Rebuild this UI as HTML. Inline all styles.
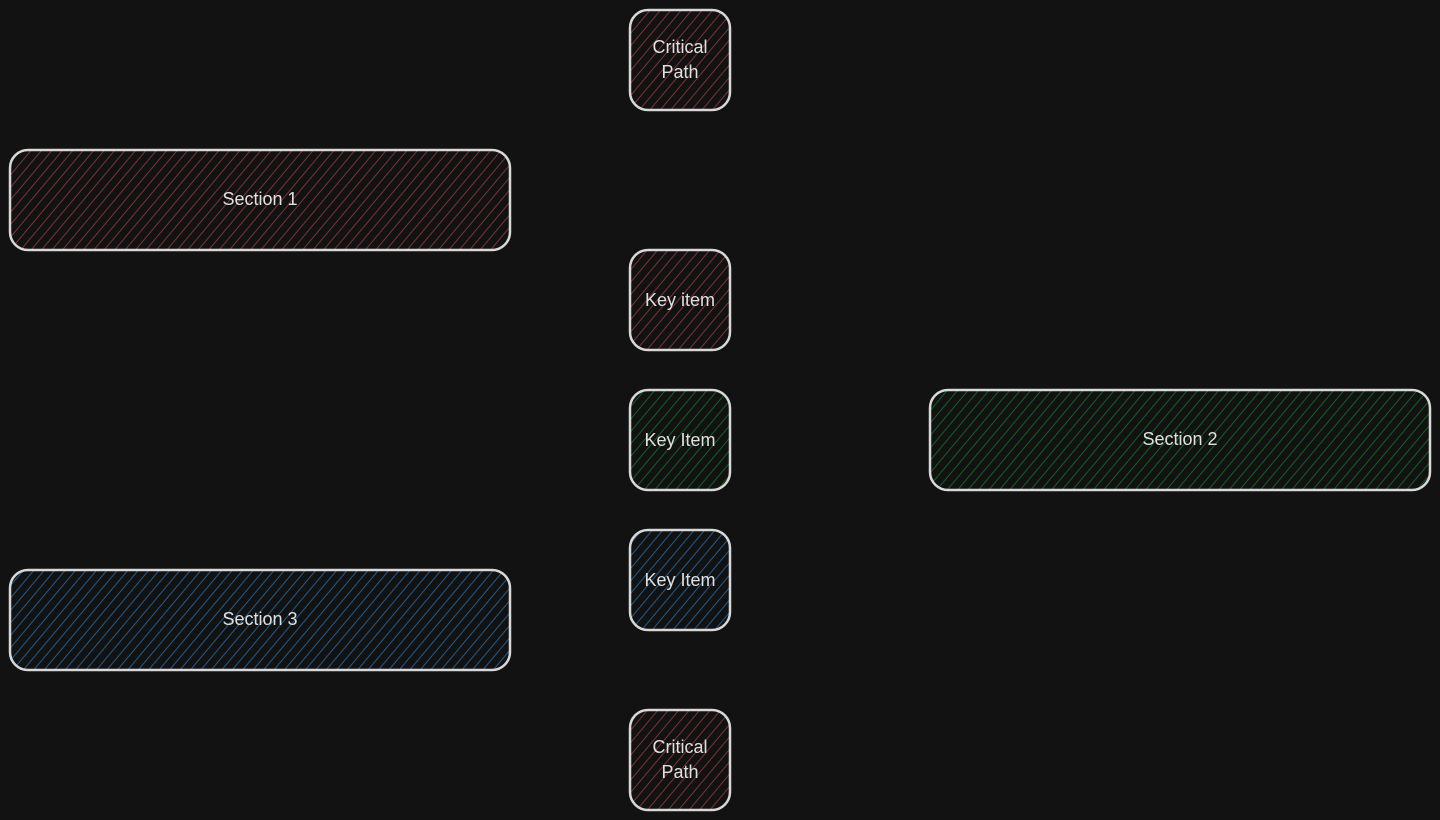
<!DOCTYPE html>
<html><head><style>
html,body{margin:0;padding:0;background:#121212;}
svg{display:block}
text{font-family:"Comic Sans MS","Liberation Sans",sans-serif;font-size:18px;fill:#e0e0e0;text-anchor:middle;dominant-baseline:central}
</style></head><body>
<svg width="1440" height="820" viewBox="0 0 1440 820">
<defs>
<pattern id="r" patternUnits="userSpaceOnUse" width="8" height="8" patternTransform="rotate(40)"><line x1="0" y1="0" x2="0" y2="8" stroke="#7a3434" stroke-width="2"/></pattern>
<pattern id="g" patternUnits="userSpaceOnUse" width="8" height="8" patternTransform="rotate(40)"><line x1="0" y1="0" x2="0" y2="8" stroke="#146024" stroke-width="2"/></pattern>
<pattern id="b" patternUnits="userSpaceOnUse" width="8" height="8" patternTransform="rotate(40)"><line x1="0" y1="0" x2="0" y2="8" stroke="#235a8a" stroke-width="2"/></pattern>
</defs>
<g stroke="#d8d8d8" stroke-width="2.5">
<rect x="630" y="10" width="100" height="100" rx="18" fill="url(#r)"/>
<rect x="10" y="150" width="500" height="100" rx="18" fill="url(#r)"/>
<rect x="630" y="250" width="100" height="100" rx="18" fill="url(#r)"/>
<rect x="630" y="390" width="100" height="100" rx="18" fill="url(#g)"/>
<rect x="930" y="390" width="500" height="100" rx="18" fill="url(#g)"/>
<rect x="630" y="530" width="100" height="100" rx="18" fill="url(#b)"/>
<rect x="10" y="570" width="500" height="100" rx="18" fill="url(#b)"/>
<rect x="630" y="710" width="100" height="100" rx="18" fill="url(#r)"/>
</g>
<text x="680" y="47">Critical</text><text x="680" y="72">Path</text>
<text x="260" y="199">Section 1</text>
<text x="680" y="300">Key item</text>
<text x="680" y="440">Key Item</text>
<text x="1180" y="439">Section 2</text>
<text x="680" y="580">Key Item</text>
<text x="260" y="619">Section 3</text>
<text x="680" y="747">Critical</text><text x="680" y="772">Path</text>
</svg>
</body></html>
